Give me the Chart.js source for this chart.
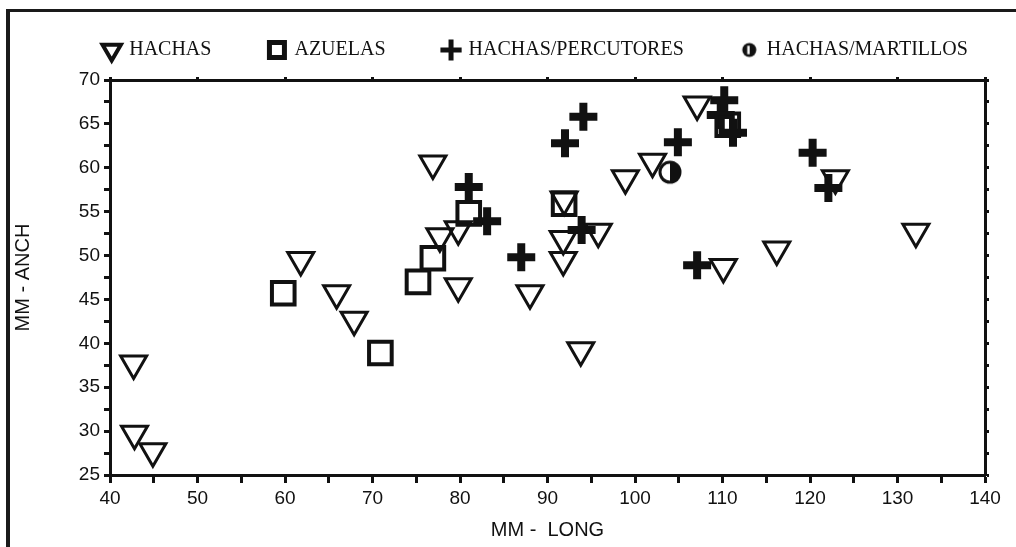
<!DOCTYPE html>
<html>
<head>
<meta charset="utf-8">
<script src="https://cdn.jsdelivr.net/npm/chart.js@4"></script>
<style>
  html, body { margin: 0; padding: 0; background: #fff; }
  #wrap { position: relative; width: 1016px; height: 547px; overflow: hidden; }
  #frame { position: absolute; left: 6px; top: 9px; right: 0; bottom: 0; border-left: 4px solid #1a1a1a; border-top: 3px solid #1a1a1a; }
  #chart { position: absolute; left: 0; top: 0; }
</style>
</head>
<body>
<div id="wrap">
  <div id="frame"></div>
  <canvas id="chart" width="1016" height="547"></canvas>
</div>
<script>
// HACHAS (triangles)
const hachasX = [42.7, 42.8, 44.9, 61.8, 65.9, 67.9, 76.9, 77.7, 79.8, 79.8, 88.0, 91.8, 91.8, 91.9, 93.8, 95.8, 98.9, 102.0, 107.1, 110.1, 116.2, 122.9, 132.1];
const hachasY = [37.7, 29.7, 27.7, 49.5, 45.7, 42.7, 60.5, 52.2, 53.0, 46.5, 45.7, 51.9, 49.5, 56.4, 39.2, 52.7, 58.8, 60.7, 67.2, 48.7, 50.7, 58.8, 52.7];
// AZUELAS (squares)
const azuelasX = [59.8, 70.9, 75.2, 76.9, 81.0, 91.9, 110.6];
const azuelasY = [45.7, 38.9, 47.0, 49.7, 54.8, 55.9, 64.9];
// HACHAS/PERCUTORES (crosses)
const percX = [81.0, 83.1, 87.0, 92.0, 93.9, 94.1, 104.9, 107.1, 109.8, 110.2, 111.2, 120.3, 122.1];
const percY = [57.8, 53.9, 49.8, 62.8, 52.9, 65.8, 62.9, 48.9, 66.0, 67.7, 64.0, 61.7, 57.7];
// HACHAS/MARTILLOS (half circle)
const martX = [104.0];
const martY = [59.5];

const xTicks = [40, 50, 60, 70, 80, 90, 100, 110, 120, 130, 140];
const yTicks = [25, 30, 35, 40, 45, 50, 55, 60, 65, 70];

const pts = (xs, ys) => xs.map((x, i) => ({ x, y: ys[i] }));

// half filled circle marker
function halfCircle(size, stripe) {
  const c = document.createElement('canvas');
  c.width = size; c.height = size;
  const g = c.getContext('2d');
  const m = size / 2, r = size / 2 - 1.5;
  g.fillStyle = '#111';
  g.beginPath();
  g.arc(m, m, r, 0, Math.PI * 2);
  g.fill();
  g.fillStyle = '#fff';
  if (stripe) {
    g.fillRect(m - size * 0.12, m - r * 0.6, size * 0.14, r * 1.2);
  } else {
    g.beginPath();
    g.arc(m, m, r - 3, Math.PI / 2, Math.PI * 1.5);
    g.closePath();
    g.fill();
  }
  return c;
}

const sansTick = { family: "'Liberation Sans', Arial, sans-serif", size: 19 };
const sansTitle = { family: "'Liberation Sans', Arial, sans-serif", size: 20 };

new Chart(document.getElementById('chart'), {
  type: 'scatter',
  data: {
    datasets: [
      { label: 'HACHAS', data: pts(hachasX, hachasY), pointStyle: 'triangle', rotation: 180,
        pointRadius: 15, borderWidth: 3, borderColor: '#111', backgroundColor: 'rgba(0,0,0,0)' },
      { label: 'AZUELAS', data: pts(azuelasX, azuelasY), pointStyle: 'rect',
        pointRadius: 16, borderWidth: 4, borderColor: '#111', backgroundColor: 'rgba(0,0,0,0)' },
      { label: 'HACHAS/PERCUTORES', data: pts(percX, percY), pointStyle: 'cross',
        pointRadius: 14, borderWidth: 8, borderColor: '#111', backgroundColor: '#111' },
      { label: 'HACHAS/MARTILLOS', data: pts(martX, martY), pointStyle: halfCircle(26, false),
        pointRadius: 13, borderWidth: 0, borderColor: '#111', backgroundColor: '#111' }
    ]
  },
  options: {
    responsive: false,
    animation: false,
    layout: { padding: { top: -18, left: 10, right: -46, bottom: 0 } },
    plugins: {
      tooltip: { enabled: false },
      legend: {
        position: 'top',
        maxHeight: 88,
        labels: {
          usePointStyle: true,
          boxWidth: 15,
          boxHeight: 15,
          color: '#111',
          padding: 58,
          font: { family: "'Liberation Serif', 'Times New Roman', serif", size: 20 },
          generateLabels(chart) {
            const items = Chart.defaults.plugins.legend.labels.generateLabels(chart);
            items.forEach((it, i) => {
              if (i === 0) { it.pointStyle = 'triangle'; it.rotation = 180; it.lineWidth = 4; }
              if (i === 1) { it.pointStyle = 'rect'; it.lineWidth = 5; it.fillStyle = '#fff'; }
              if (i === 2) { it.pointStyle = 'cross'; it.lineWidth = 5; }
              if (i === 3) { it.pointStyle = halfCircle(17, true); }
            });
            return items;
          }
        }
      }
    },
    scales: {
      x: {
        type: 'linear', position: 'bottom', min: 40, max: 140,
        afterBuildTicks(s) { s.ticks = []; for (let v = 40; v <= 140; v += 5) s.ticks.push({ value: v }); },
        afterFit(s) { s.height = 72; },
        ticks: {
          color: '#111', font: sansTick, padding: 4, maxRotation: 0, autoSkip: false,
          callback: (v) => (xTicks.includes(v) ? v : '')
        },
        grid: { drawOnChartArea: false, tickLength: 8, tickWidth: 3, tickColor: '#111' },
        border: { color: '#111', width: 3 },
        title: { display: true, text: 'MM -  LONG', color: '#111', font: sansTitle, padding: { top: 0, bottom: 5 } }
      },
      x2: {
        type: 'linear', position: 'top', min: 40, max: 140,
        afterBuildTicks(s) { s.ticks = xTicks.map((v) => ({ value: v })); },
        afterFit(s) { s.height = 10; },
        ticks: { display: false },
        grid: { drawOnChartArea: false, tickLength: 3, tickWidth: 3, tickColor: '#111' },
        border: { color: '#111', width: 3 }
      },
      y: {
        type: 'linear', position: 'left', min: 25, max: 70,
        afterBuildTicks(s) { s.ticks = []; for (let v = 25; v <= 70; v += 2.5) s.ticks.push({ value: v }); },
        afterFit(s) { s.width = 100; },
        ticks: {
          color: '#111', font: sansTick, padding: 4, autoSkip: false,
          callback: (v) => (yTicks.includes(v) ? v : '')
        },
        grid: { drawOnChartArea: false, tickLength: 6, tickWidth: 3, tickColor: '#111' },
        border: { color: '#111', width: 3 },
        title: { display: true, text: 'MM - ANCH', color: '#111', font: sansTitle, padding: { top: 1, bottom: 4 } }
      },
      y2: {
        type: 'linear', position: 'right', min: 25, max: 70,
        afterBuildTicks(s) { s.ticks = []; for (let v = 25; v <= 70; v += 2.5) s.ticks.push({ value: v }); },
        afterFit(s) { s.width = 77; },
        ticks: { display: false },
        grid: { drawOnChartArea: false, tickLength: 4, tickWidth: 3, tickColor: '#111' },
        border: { color: '#111', width: 3 }
      }
    }
  }
});
</script>
</body>
</html>
